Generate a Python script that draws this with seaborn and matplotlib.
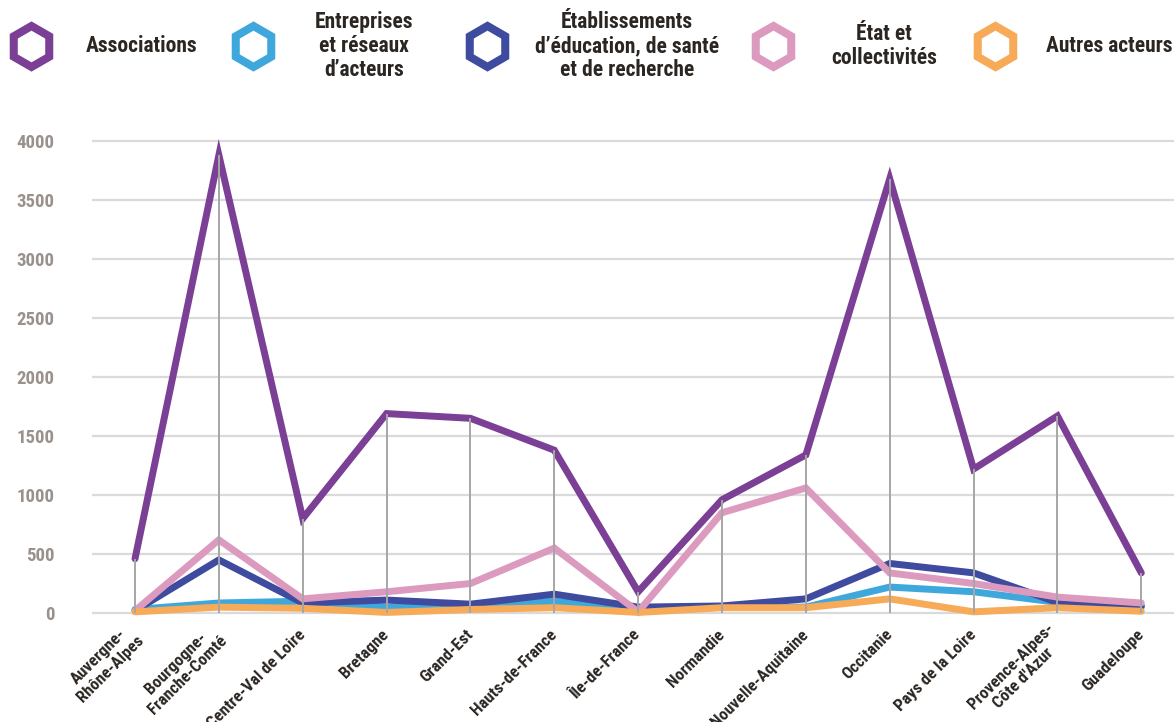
import matplotlib
matplotlib.use("Agg")
import matplotlib.pyplot as plt
from matplotlib.lines import Line2D
import seaborn as sns
import pandas as pd
import numpy as np

regions = ["Auvergne-\nRhône-Alpes", "Bourgogne-\nFranche-Comté", "Centre-Val de Loire",
           "Bretagne", "Grand-Est", "Hauts-de-France", "Île-de-France", "Normandie",
           "Nouvelle-Aquitaine", "Occitanie", "Pays de la Loire",
           "Provence-Alpes-\nCôte d'Azur", "Guadeloupe"]

associations = [460, 3880, 800, 1690, 1650, 1380, 180, 960, 1340, 3680, 1220, 1670, 340]
entreprises = [30, 85, 100, 50, 55, 100, 30, 50, 50, 220, 180, 90, 50]
etablissements = [20, 450, 85, 110, 75, 160, 50, 60, 120, 420, 340, 90, 60]
etat = [20, 620, 120, 180, 250, 550, 10, 850, 1060, 340, 250, 135, 85]
autres = [10, 50, 40, 5, 30, 45, 5, 45, 45, 120, 10, 45, 15]

series_names = ["Associations", "Entreprises\net réseaux\nd’acteurs",
                "Établissements\nd’éducation, de santé\net de recherche",
                "État et\ncollectivités", "Autres acteurs"]
series_values = [associations, entreprises, etablissements, etat, autres]
colors = ["#7b3f96", "#3ea8dc", "#3f4b9e", "#dc9abf", "#f7aa58"]

yticks = [0, 500, 1000, 1500, 2000, 2500, 3000, 3500, 4000]

rows = []
for name, vals in zip(series_names, series_values):
    for i, v in enumerate(vals):
        rows.append({"x": i, "value": v, "serie": name})
df = pd.DataFrame(rows)

sns.set_theme(style="white")
plt.rcParams["font.family"] = ["Roboto Condensed", "IBM Plex Sans Condensed",
                               "Open Sans Condensed", "DejaVu Sans"]

fig = plt.figure(figsize=(11.74, 7.22), dpi=100)
ax = fig.add_axes([92 / 1174, 1 - 620.1 / 722, (1174 - 92) / 1174, (620.1 - 129.2) / 722])

sns.lineplot(data=df, x="x", y="value", hue="serie", hue_order=series_names,
             palette=colors, linewidth=5, sort=False, legend=False, ax=ax,
             solid_capstyle="round", solid_joinstyle="miter")

xs = np.arange(len(regions))
ax.vlines(xs, 0, associations, color="#a6a6a6", linewidth=1.4, zorder=5)

ax.set_xlim(-0.513, 12.39)
ax.set_ylim(-60, 4100)
ax.set_yticks(yticks)
ax.set_yticklabels([str(t) for t in yticks], color="#9a918c", fontsize=13.5, fontweight="bold")
for t in yticks:
    ax.axhline(t, color="#dadada", linewidth=1.6, zorder=0)
ax.tick_params(axis="y", length=0, pad=27)
ax.tick_params(axis="x", length=0, pad=8.6)
ax.set_xticks(xs)
ax.set_xticklabels(regions, rotation=45, ha="right", va="center", rotation_mode="anchor",
                   fontsize=12.2, fontweight="bold", color="#2b2622", multialignment="center",
                   linespacing=1.15)
ax.set_xlabel("")
ax.set_ylabel("")
for s in ax.spines.values():
    s.set_visible(False)

# legend
hex_x = [31, 253, 487, 773, 995]
txt_x = [141.5, 364, 627, 884, 1109]
for hx, tx, name, c in zip(hex_x, txt_x, series_names, colors):
    fig.add_artist(Line2D([hx / 1174], [1 - 45.5 / 722], transform=fig.transFigure,
                          marker="h", markersize=29.5, markerfacecolor="white",
                          markeredgecolor=c, markeredgewidth=5.8, linestyle="none"))
    fig.text(tx / 1174, 1 - 46 / 722, name, ha="center", va="center",
             multialignment="center", fontsize=15.5, fontweight="bold",
             color="#2b2622", linespacing=1.1)

fig.savefig("out.png", dpi=100)
